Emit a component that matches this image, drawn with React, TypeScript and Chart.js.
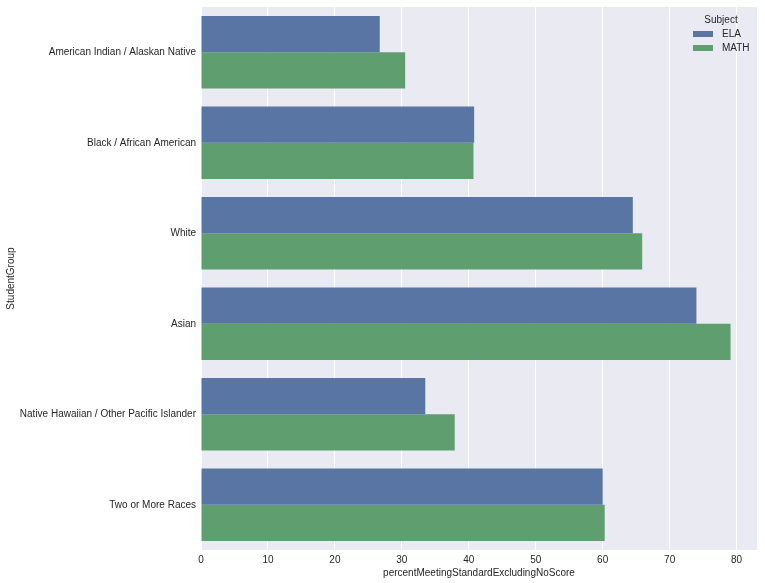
import React, { useEffect, useRef } from "react";
import { Chart, registerables } from "chart.js";

Chart.register(...registerables);

const groups = [
  "American Indian / Alaskan Native",
  "Black / African American",
  "White",
  "Asian",
  "Native Hawaiian / Other Pacific Islander",
  "Two or More Races",
];
const elaValues = [26.7, 40.8, 64.5, 74.0, 33.5, 60.0];
const mathValues = [30.5, 40.7, 65.9, 79.1, 37.9, 60.3];
const xTicks = [0, 10, 20, 30, 40, 50, 60, 70, 80];
const xMax = 83.05;

const FONT = "'Liberation Sans', Arial, sans-serif";
const BLUE = "#5875a4";
const GREEN = "#5f9e6e";

const bgPlugin = {
  id: "bgPlot",
  beforeDraw(chart: any) {
    const { ctx, chartArea } = chart;
    ctx.save();
    ctx.fillStyle = "#eaeaf2";
    ctx.fillRect(chartArea.left, chartArea.top, chartArea.right - chartArea.left, chartArea.bottom - chartArea.top);
    ctx.restore();
  },
};

const legendPlugin = {
  id: "customLegend",
  afterDraw(chart: any) {
    const { ctx, chartArea } = chart;
    const x0 = chartArea.right - 64;
    ctx.save();
    ctx.font = `10px ${FONT}`;
    ctx.fillStyle = "#262626";
    ctx.textBaseline = "middle";
    ctx.textAlign = "center";
    ctx.fillText("Subject", x0 + 28, 20);
    ctx.textAlign = "left";
    const items = [
      { label: "ELA", color: BLUE, y: 34 },
      { label: "MATH", color: GREEN, y: 48 },
    ];
    for (const it of items) {
      ctx.fillStyle = it.color;
      ctx.fillRect(x0, it.y - 3, 20, 6);
      ctx.fillStyle = "#262626";
      ctx.fillText(it.label, x0 + 29, it.y);
    }
    ctx.restore();
  },
};

export default function App() {
  const ref = useRef<HTMLCanvasElement>(null);
  useEffect(() => {
    if (!ref.current) return;
    const chart = new Chart(ref.current, {
      type: "bar",
      data: {
        labels: groups,
        datasets: [
          { label: "ELA", data: elaValues, backgroundColor: BLUE, borderWidth: 0, categoryPercentage: 0.8, barPercentage: 1.0 },
          { label: "MATH", data: mathValues, backgroundColor: GREEN, borderWidth: 0, categoryPercentage: 0.8, barPercentage: 1.0 },
        ],
      },
      options: {
        indexAxis: "y",
        animation: false,
        responsive: false,
        maintainAspectRatio: false,
        layout: { padding: { left: 0, right: 8, top: 7, bottom: 0 } },
        plugins: {
          legend: { display: false },
          tooltip: { enabled: false },
        },
        scales: {
          x: {
            type: "linear",
            min: 0,
            max: xMax,
            afterBuildTicks(axis: any) {
              axis.ticks = xTicks.map((v) => ({ value: v }));
            },
            afterFit(axis: any) {
              axis.height = 33;
            },
            grid: { color: "#ffffff", lineWidth: 1, drawTicks: false },
            border: { display: false },
            ticks: {
              color: "#262626",
              font: { family: FONT, size: 10 },
              padding: 4,
              maxRotation: 0,
            },
            title: {
              display: true,
              text: "percentMeetingStandardExcludingNoScore",
              color: "#262626",
              font: { family: FONT, size: 10 },
              padding: { top: 2, bottom: 4 },
            },
          },
          y: {
            type: "category",
            offset: true,
            afterFit(axis: any) {
              axis.width = 201;
              axis.paddingTop = 0;
              axis.paddingBottom = 0;
            },
            grid: { display: false, drawTicks: false },
            border: { display: false },
            ticks: {
              color: "#262626",
              font: { family: FONT, size: 10 },
              padding: 5,
            },
            title: {
              display: true,
              text: "StudentGroup",
              color: "#262626",
              font: { family: FONT, size: 10 },
              padding: { top: 5, bottom: 4 },
            },
          },
        },
      },
      plugins: [bgPlugin, legendPlugin],
    });
    return () => chart.destroy();
  }, []);
  return (
    <div style={{ position: "fixed", left: 0, top: 0, width: 765, height: 583, background: "#fff" }}>
      <canvas ref={ref} width={765} height={583} style={{ display: "block" }} />
    </div>
  );
}
